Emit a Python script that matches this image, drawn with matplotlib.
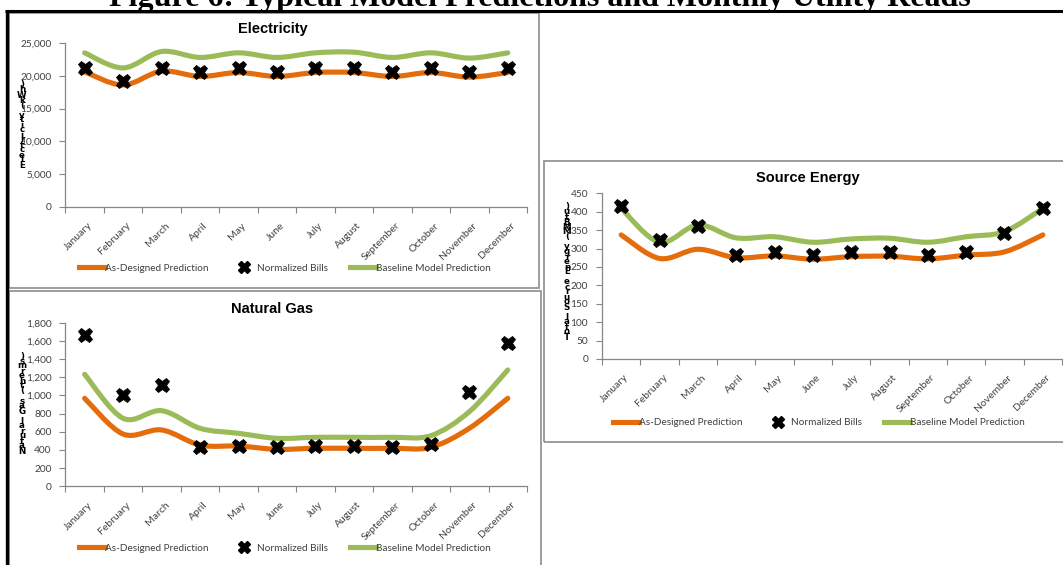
import matplotlib
matplotlib.use("Agg")
import matplotlib.pyplot as plt
from matplotlib.path import Path
from matplotlib.patches import PathPatch, Rectangle
from matplotlib.lines import Line2D
from matplotlib.ticker import FuncFormatter, MultipleLocator, FixedLocator
import matplotlib.transforms as mtransforms
import numpy as np

# ---------------- data ----------------
months = ["January", "February", "March", "April", "May", "June", "July",
          "August", "September", "October", "November", "December"]

elec_as_designed = [20600, 18600, 20700, 19900, 20500, 19900, 20500, 20500, 19900, 20500, 19800, 20500]
elec_bills       = [21150, 19200, 21200, 20600, 21200, 20600, 21200, 21200, 20600, 21200, 20600, 21200]
elec_baseline    = [23500, 21200, 23700, 22800, 23500, 22800, 23500, 23600, 22800, 23500, 22700, 23500]

gas_as_designed = [968, 575, 620, 454, 443, 407, 418, 418, 418, 429, 638, 968]
gas_bills       = [1665, 1004, 1115, 429, 447, 429, 447, 447, 429, 462, 1034, 1573]
gas_baseline    = [1232, 748, 832, 638, 583, 528, 539, 539, 539, 557, 821, 1280]

src_as_designed = [337, 273, 298, 275, 280, 271, 278, 279, 272, 282, 291, 337]
src_bills       = [416, 323, 361, 282, 290, 282, 290, 290, 282, 290, 341, 409]
src_baseline    = [409, 317, 364, 329, 332, 317, 326, 328, 317, 332, 346, 409]

legend_labels = ["As-Designed Prediction", "Normalized Bills", "Baseline Model Prediction"]
fig_title = "Figure 6: Typical Model Predictions and Monthly Utility Reads"

# ---------------- style ----------------
ORANGE = "#E46C0A"
GREEN = "#9BBB59"
AXIS = "#868686"
TXT = "#404040"
BOX = "#8C8C8C"
FONT = "Lato"

W, H = 1063, 565
fig = plt.figure(figsize=(W / 100, H / 100), dpi=100)
fig.patch.set_facecolor("white")


def fx(px):
    return px / W


def fy(py):
    return 1 - py / H


def smooth_path(xs, ys, t=1 / 6):
    pts = np.column_stack([xs, ys]).astype(float)
    n = len(pts)
    verts = [pts[0]]
    codes = [Path.MOVETO]
    for i in range(n - 1):
        p0 = pts[i - 1] if i > 0 else pts[i]
        p1 = pts[i]
        p2 = pts[i + 1]
        p3 = pts[i + 2] if i + 2 < n else pts[i + 1]
        c1 = p1 + (p2 - p0) * t
        c2 = p2 - (p3 - p1) * t
        verts += [c1, c2, p2]
        codes += [Path.CURVE4] * 3
    return Path(verts, codes)


# ---------- page frame ----------
def hline(x0, x1, y, color, lw):
    fig.add_artist(Line2D([fx(x0), fx(x1)], [fy(y), fy(y)], color=color, lw=lw,
                          transform=fig.transFigure, solid_capstyle="butt"))


def vline(x, y0, y1, color, lw):
    fig.add_artist(Line2D([fx(x), fx(x)], [fy(y0), fy(y1)], color=color, lw=lw,
                          transform=fig.transFigure, solid_capstyle="butt"))


def box(x0, y0, x1, y1):
    fig.add_artist(Rectangle((fx(x0), fy(y1)), fx(x1) - fx(x0), fy(y0) - fy(y1),
                             transform=fig.transFigure, fill=False, ec=BOX, lw=1.2))


box(8.5, 12.5, 539, 287.5)
box(8.5, 290.5, 540.5, 570)
box(543.5, 161, 1070, 442)
hline(5, 1063, 11, "black", 2.2)
vline(6.5, 10, 565, "black", 2.4)

fig.text(fx(540), fy(6), fig_title, ha="center", va="baseline",
         family="Liberation Serif", fontweight="bold", fontsize=23, color="black")


def stacked_label(text, x, top, pitch):
    chars = list(text)[::-1]
    for i, ch in enumerate(chars):
        if ch == " ":
            continue
        fig.text(fx(x), fy(top + i * pitch), ch, ha="center", va="center",
                 family="DejaVu Sans", fontsize=6.3, fontweight="bold", color="black")


def panel(l, t, r, b, title, title_xy, ylim, ystep, des, bills, base,
          ylabel, ylabel_x, ylabel_top, ylabel_pitch, leg_x, leg_y):
    ax = fig.add_axes([fx(l), fy(b), fx(r - l), (b - t) / H])
    ax.set_facecolor("none")
    x = np.arange(len(months))
    ax.set_xlim(-0.5, len(months) - 0.5)
    ax.set_ylim(*ylim)

    for vals, col in ((des, ORANGE), (base, GREEN)):
        ax.add_patch(PathPatch(smooth_path(x, vals), fill=False, ec=col, lw=3.7,
                               capstyle="round", joinstyle="round", zorder=2))
    ax.plot(x, bills, ls="none", marker="X", ms=10.5, mfc="black", mec="black",
            mew=0.6, zorder=3)

    for s in ("top", "right"):
        ax.spines[s].set_visible(False)
    for s in ("left", "bottom"):
        ax.spines[s].set_color(AXIS)
        ax.spines[s].set_linewidth(0.9)

    ax.yaxis.set_major_locator(MultipleLocator(ystep))
    ax.yaxis.set_major_formatter(FuncFormatter(lambda v, p: f"{v:,.0f}"))
    ax.tick_params(axis="y", direction="out", length=4, width=0.8, color=AXIS,
                   labelsize=7.3, labelcolor=TXT, pad=6)
    for lab in ax.get_yticklabels():
        lab.set_family(FONT)

    ax.xaxis.set_major_locator(FixedLocator(x))
    ax.xaxis.set_minor_locator(FixedLocator(np.arange(len(months) + 1) - 0.5))
    ax.set_xticklabels(months, rotation=45, ha="right", rotation_mode="anchor",
                       family=FONT, fontsize=7.5, color=TXT)
    ax.tick_params(axis="x", which="major", length=0, pad=10)
    ax.tick_params(axis="x", which="minor", direction="out", length=4, width=0.8, color=AXIS)
    off = mtransforms.ScaledTranslation(3 / 100, 0, fig.dpi_scale_trans)
    for lab in ax.get_xticklabels():
        lab.set_transform(lab.get_transform() + off)

    fig.text(fx(title_xy[0]), fy(title_xy[1]), title, ha="center", va="center",
             family="Liberation Sans", fontweight="bold", fontsize=10.5, color="black")

    handles = [Line2D([], [], color=ORANGE, lw=3.7),
               Line2D([], [], ls="none", marker="X", ms=8, mfc="black", mec="black"),
               Line2D([], [], color=GREEN, lw=3.7)]
    ax.legend(handles, legend_labels, loc="center", bbox_to_anchor=(leg_x, leg_y),
              ncol=3, frameon=False, handlelength=2.6, handletextpad=0.0,
              columnspacing=2.2, prop={"family": FONT, "size": 7.2},
              labelcolor=TXT, borderaxespad=0)

    stacked_label(ylabel, ylabel_x, ylabel_top, ylabel_pitch)
    return ax


panel(65.4, 43, 527, 207, "Electricity", (273, 29), (0, 25000), 5000,
      elec_as_designed, elec_bills, elec_baseline,
      "Electricity (kWh)", 22, 85, 5.0, 0.476, -0.372)

panel(65.4, 322.7, 527, 486.3, "Natural Gas", (272.5, 309), (0, 1800), 200,
      gas_as_designed, gas_bills, gas_baseline,
      "Natural Gas (therms)", 22, 356, 5.0, 0.476, -0.379)

panel(602, 193.3, 1062, 359, "Source Energy", (808, 177.7), (0, 450), 50,
      src_as_designed, src_bills, src_baseline,
      "Total Source Energy (MMBtu)", 567, 207, 5.0, 0.472, -0.384)

fig.savefig("out.png", dpi=100, facecolor="white")
